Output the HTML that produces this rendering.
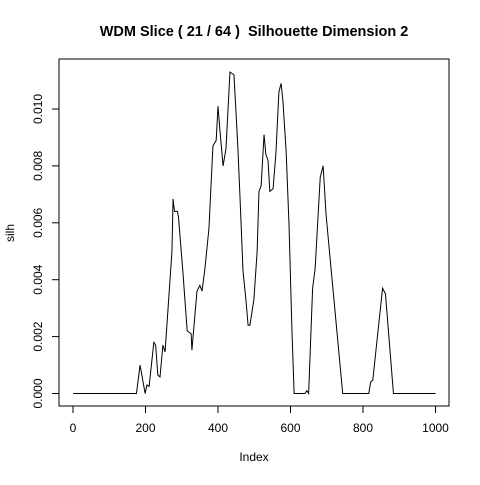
<!DOCTYPE html>
<html><head><meta charset="utf-8"><style>
body{margin:0;background:#fff}
svg text{font-family:"Liberation Sans",sans-serif;fill:#000}
</style></head><body>
<svg id="chart" width="480" height="480" viewBox="0 0 480 480">
<text x="254" y="36" text-anchor="middle" font-size="14.5" font-weight="bold">WDM Slice ( 21 / 64 )&#160; Silhouette Dimension 2</text>
<rect x="59" y="59" width="390" height="347" fill="none" stroke="#000" stroke-width="1"/>
<text x="254" y="461" text-anchor="middle" font-size="12">Index</text>
<text x="0" y="0" transform="translate(14,233) rotate(-90)" text-anchor="middle" font-size="12">silh</text>
<g id="axes"></g>
<polyline id="line" fill="none" stroke="#000" stroke-width="1"/>
</svg>
<script>
const idx = [0,175,185,199,204,210,223,228,234,240,248,254,273,276,280,284,288,291,303,315,326,328,342,350,356,364,375,386,395,400,405,414,422,433,444,450,455,461,469,477,483,488,499,508,513,519,527,532,538,543,552,560,568,574,579,588,596,604,610,640,645,650,661,668,682,690,698,714,744,816,821,827,854,862,884,1000];
const vals = [0,0,0.001,0,0.0003,0.00025,0.0018,0.0017,0.00065,0.00058,0.0017,0.00146,0.005,0.00684,0.0064,0.0064,0.0064,0.0062,0.0043,0.0022,0.0021,0.00152,0.0036,0.0038,0.0036,0.0044,0.0058,0.0087,0.0089,0.0101,0.0093,0.008,0.0086,0.0113,0.0112,0.0098,0.0086,0.0068,0.0043,0.0033,0.0024,0.0024,0.0033,0.005,0.0071,0.0073,0.0091,0.0084,0.0082,0.0071,0.0072,0.0085,0.0106,0.0109,0.0103,0.0085,0.0059,0.0022,0,0,0.0001,0,0.0037,0.0044,0.0076,0.008,0.0063,0.0041,0,0,0.0004,0.00047,0.0037,0.0035,0,0];
const xTicks = [0,200,400,600,800,1000];
const yTicks = [0,0.002,0.004,0.006,0.008,0.010];
const yLabels = ["0.000","0.002","0.004","0.006","0.008","0.010"];
const X = v => 73 + v * 0.3625;
const Y = v => 393.5 - v * 28450;
const NS = "http://www.w3.org/2000/svg";
const ax = document.getElementById('axes');
function mk(t, a){const e=document.createElementNS(NS,t);for(const k in a)e.setAttribute(k,a[k]);ax.appendChild(e);return e;}
const xl = mk('line',{x1:X(0),x2:X(1000),y1:406,y2:406,stroke:'#000'});


xTicks.forEach(t=>{
  const l=mk('line',{x1:X(t),x2:X(t),y1:406,y2:413,stroke:'#000'});
  
  
  const tx=mk('text',{x:X(t),y:432,'text-anchor':'middle','font-size':'12'});
  tx.textContent=t;
  
  
});
const yl = mk('line',{x1:59,x2:59,y1:Y(0),y2:Y(0.010),stroke:'#000'});


yTicks.forEach((t,i)=>{
  const l=mk('line',{x1:52,x2:59,y1:Y(t),y2:Y(t),stroke:'#000'});
  
  
  const tx=mk('text',{x:0,y:0,transform:`translate(42,${Y(t)}) rotate(-90)`,'text-anchor':'middle','font-size':'12'});
  tx.textContent=yLabels[i];
  
  
});
document.getElementById('line').setAttribute('points', idx.map((v,i)=>X(v)+','+Y(vals[i])).join(' '));
</script>
</body></html>
